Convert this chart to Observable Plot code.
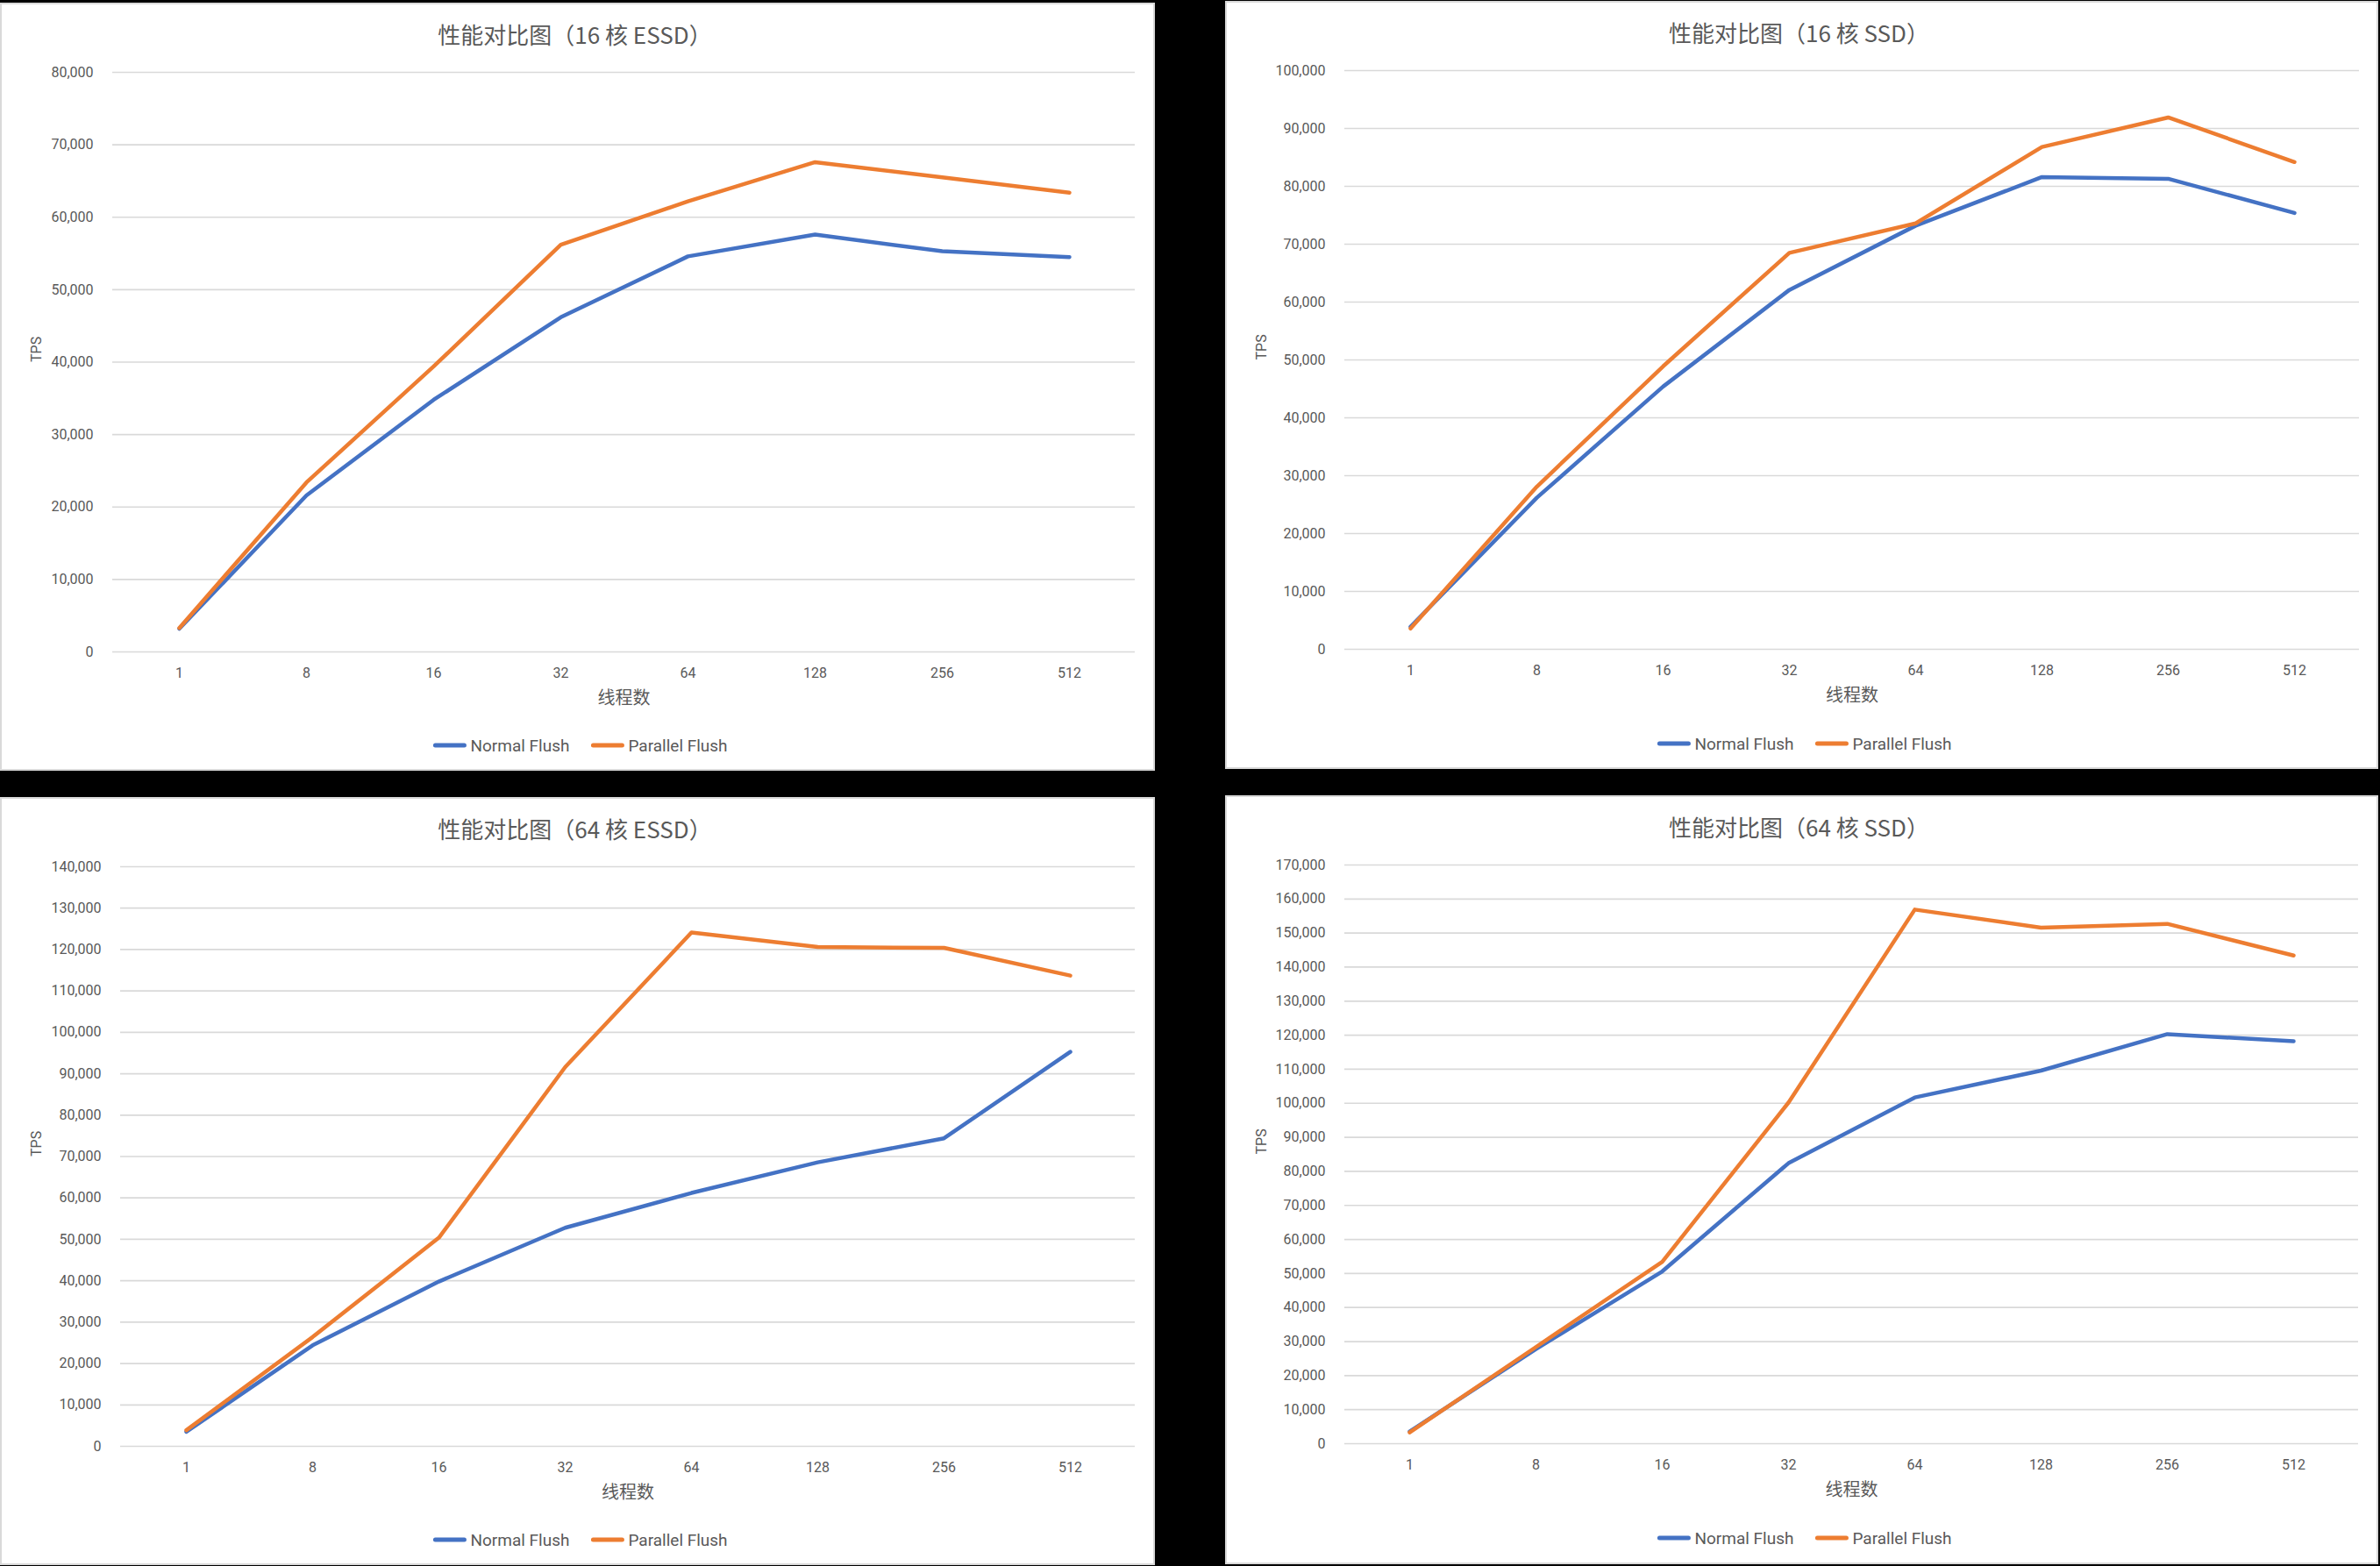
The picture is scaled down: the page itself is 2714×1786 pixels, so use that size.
<!DOCTYPE html>
<html><head><meta charset="utf-8">
<script src="https://cdn.jsdelivr.net/npm/d3@7"></script>
<script src="https://cdn.jsdelivr.net/npm/@observablehq/plot@0.6"></script>
<style>
html,body{margin:0;padding:0;background:#000;width:2714px;height:1786px;overflow:hidden;}
.panel{position:absolute;background:#fff;border:2px solid #d9d9d9;box-sizing:border-box;}
.title{position:absolute;font-family:"Noto Sans CJK SC";font-size:26px;color:#595959;line-height:1;white-space:nowrap;transform:translate(-50%,-50%);}
.legend{position:absolute;display:flex;align-items:center;transform:translate(-50%,-50%);font-family:Roboto;font-size:19px;color:#595959;white-space:nowrap;}
.sw{width:38px;height:5px;border-radius:3px;margin-right:5px;}
.item{display:flex;align-items:center;margin:0 12px;}
.chart{position:absolute;}
</style></head><body><script>
// ---- data ----
const threads = ["1","8","16","32","64","128","256","512"];
const series = ["Normal Flush","Parallel Flush"];
const colors = ["#4472C4","#ED7D31"];
const titles = ["性能对比图（16 核 ESSD）","性能对比图（16 核 SSD）","性能对比图（64 核 ESSD）","性能对比图（64 核 SSD）"];
const xLabel = "线程数";
const yLabel = "TPS";
const yMax = [80000, 100000, 140000, 170000];
const normal16ESSD   = [3200, 21600, 34800, 46200, 54600, 57600, 55300, 54500];
const parallel16ESSD = [3300, 23400, 39400, 56200, 62200, 67600, 65500, 63400];
const normal16SSD    = [3900, 26200, 45400, 62100, 73200, 81600, 81300, 75400];
const parallel16SSD  = [3600, 28100, 48900, 68500, 73600, 86800, 91900, 84200];
const normal64ESSD   = [3500, 24400, 39800, 52800, 61200, 68600, 74400, 95300];
const parallel64ESSD = [3900, 26400, 50400, 91600, 124100, 120600, 120400, 113700];
const normal64SSD    = [3600, 27800, 50600, 82400, 101700, 109600, 120300, 118200];
const parallel64SSD  = [3300, 28400, 53400, 100200, 156900, 151600, 152700, 143400];
const panelSeries = [
  [normal16ESSD, parallel16ESSD],
  [normal16SSD, parallel16SSD],
  [normal64ESSD, parallel64ESSD],
  [normal64SSD, parallel64SSD]
];
// ---- layout (page px): box [l,t,r,b], plot [l,t,r,b] ----
const layouts = [
  {box:[0,3,1317,879],     plot:[128,82,1294,743]},
  {box:[1397,1,2712,877],  plot:[1533,80,2690,740]},
  {box:[0,909,1317,1785],  plot:[137,988,1294,1649]},
  {box:[1397,907,2712,1784],plot:[1533,986,2689,1646]}
];

layouts.forEach((L, i) => {
  const [bl, bt, br, bb] = L.box;
  const [pl, pt, pr, pb] = L.plot;
  const panel = document.createElement("div");
  panel.className = "panel";
  Object.assign(panel.style, {left: bl+"px", top: bt+"px", width: (br-bl)+"px", height: (bb-bt)+"px"});
  document.body.appendChild(panel);

  const t = document.createElement("div");
  t.className = "title";
  t.textContent = titles[i];
  Object.assign(t.style, {left: ((bl+br)/2 - 3)+"px", top: (bt+36)+"px"});
  document.body.appendChild(t);

  const rows = [];
  panelSeries[i].forEach((vals, s) => vals.forEach((v, k) => rows.push({t: threads[k], v, s: series[s]})));
  const ticks = d3.range(0, yMax[i] + 1, 10000);

  const svgL = bl + 2, svgT = pt - 30, svgW = (br - bl) - 4, svgH = (pb + 90) - svgT;
  const chart = Plot.plot({
    width: svgW, height: svgH,
    marginLeft: pl - svgL, marginRight: (svgL + svgW) - pr, marginTop: 30, marginBottom: 90,
    style: {fontFamily: "Roboto", fontSize: "16px", color: "#595959", background: "transparent", overflow: "visible"},
    x: {type: "point", domain: threads, padding: 0.5, axis: null},
    y: {domain: [0, yMax[i]], axis: null},
    color: {domain: series, range: colors},
    marks: [
      Plot.gridY(ticks, {stroke: "#d9d9d9", strokeOpacity: 1, strokeWidth: 1.7}),
      Plot.axisY(ticks, {tickSize: 0, tickPadding: 22, tickFormat: d3.format(","), fill: "#595959", label: null}),
      Plot.axisX(threads, {tickSize: 0, tickPadding: 18, fill: "#595959", label: null}),
      Plot.line(rows, {x: "t", y: "v", z: "s", stroke: "s", strokeWidth: 4.5, strokeLinejoin: "round", strokeLinecap: "round"}),
      Plot.text([xLabel], {frameAnchor: "bottom", dy: 59, fontSize: 20, fontFamily: "Noto Sans CJK SC", fill: "#595959"}),
      Plot.text([yLabel], {frameAnchor: "left", dx: (bl + 41) - pl, rotate: -90, fontSize: 16, fill: "#595959"})
    ]
  });
  chart.classList.add("chart");
  Object.assign(chart.style, {left: svgL+"px", top: svgT+"px"});
  document.body.appendChild(chart);

  const lg = document.createElement("div");
  lg.className = "legend";
  Object.assign(lg.style, {left: ((bl+br)/2 + 3)+"px", top: (bt+847)+"px"});
  series.forEach((s, k) => {
    const it = document.createElement("div");
    it.className = "item";
    const sw = document.createElement("div");
    sw.className = "sw";
    sw.style.background = colors[k];
    const tx = document.createElement("span");
    tx.textContent = s;
    it.appendChild(sw); it.appendChild(tx);
    lg.appendChild(it);
  });
  document.body.appendChild(lg);
});
</script></body></html>
